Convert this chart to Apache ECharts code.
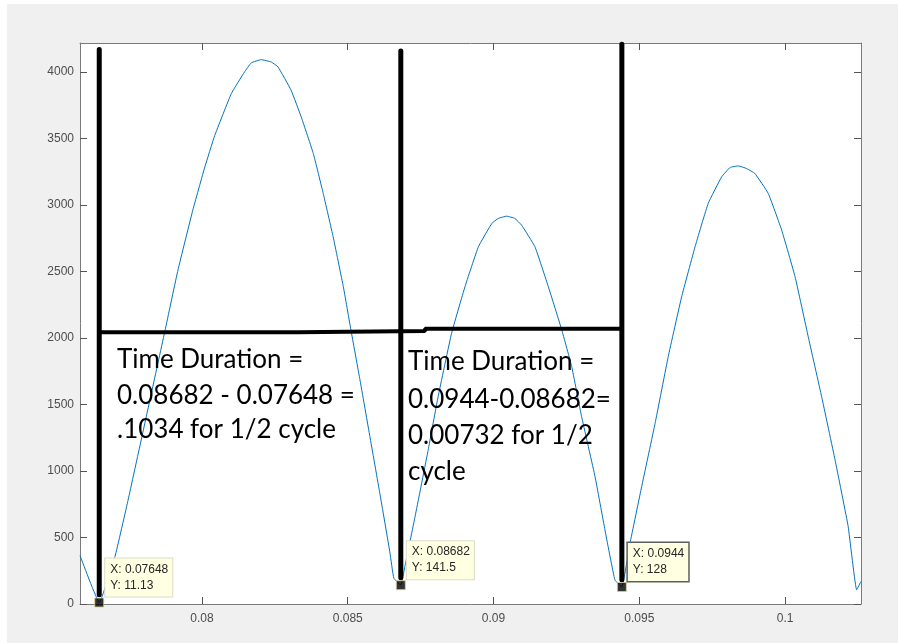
<!DOCTYPE html>
<html>
<head>
<meta charset="utf-8">
<title>Half-cycle timing</title>
<script src="https://cdn.jsdelivr.net/npm/echarts@6/dist/echarts.min.js"></script>
<style>
  html, body { margin: 0; padding: 0; background: #ffffff; }
  #chart { position: absolute; left: 7px; top: 4px; width: 891px; height: 639px; }
</style>
</head>
<body>
<div id="chart"></div>
<script>
// Sampled signal (time in s, amplitude)
const timeS = [
  0.07582, 0.07648, 0.07702, 0.07747, 0.07874, 0.07918, 0.07969, 0.08009, 0.08044, 0.08101,
  0.08146, 0.08169, 0.08203, 0.08238, 0.08261, 0.08306, 0.08342, 0.08382, 0.08416, 0.08450,
  0.08485, 0.08511, 0.08542, 0.08576, 0.08610, 0.08645, 0.08658, 0.08682,
  0.08696, 0.08731, 0.08776, 0.08810, 0.08856, 0.08902, 0.08948, 0.08994, 0.09016, 0.09045,
  0.09073, 0.09096, 0.09142, 0.09188, 0.09234, 0.09268, 0.09302, 0.09348, 0.09382, 0.09416,
  0.09440,
  0.09468, 0.09508, 0.09554, 0.09599, 0.09645, 0.09691, 0.09736, 0.09782, 0.09811, 0.09839,
  0.09868, 0.09896, 0.09942, 0.09988, 0.10034, 0.10079, 0.10125, 0.10171, 0.10216, 0.10245,
  0.10260
];
const amplitude = [
  365, 11.13, 357, 783, 2061, 2512, 2963, 3278, 3523, 3838,
  4000, 4068, 4093, 4075, 4038, 3863, 3653, 3387, 3087, 2761,
  2385, 2060, 1685, 1259, 834, 383, 195, 141.5,
  282, 658, 1159, 1559, 2035, 2385, 2686, 2861, 2899, 2916,
  2899, 2849, 2686, 2385, 2060, 1785, 1409, 958, 558, 182,
  128,
  458, 883, 1359, 1860, 2310, 2686, 3012, 3211, 3282, 3294,
  3274, 3237, 3087, 2811, 2460, 2010, 1559, 1084, 583, 107,
  170
];

// Axis extents and tick values
const X_MIN = 0.07582, X_MAX = 0.1026;
const Y_MIN = 0, Y_MAX = 4218;
const xTicks = [0.08, 0.085, 0.09, 0.095, 0.1];
const yTicks = [0, 500, 1000, 1500, 2000, 2500, 3000, 3500, 4000];

// Data tips at the three minima
const tipX = [0.07648, 0.08682, 0.0944];
const tipY = [11.13, 141.5, 128];
const tipSelected = [false, false, true];

// Hand-drawn marker lines: verticals at the minima, horizontal span between them
const markLineX = [0.07648, 0.08682, 0.0944];
const markLineBottom = [70, 198, 183];
const markLineTop = [4170, 4158, 4208];
const spanX = [0.07648, 0.08328, 0.08328, 0.08765, 0.08765, 0.0944];
const spanY = [2043, 2043, 2053, 2053, 2070, 2070];

// Notes written on the plot
const noteA = ['Time Duration =', '0.08682 - 0.07648 =', '.1034 for 1/2 cycle'];
const noteB = ['Time Duration =', '0.0944-0.08682=', '0.00732 for 1/2', 'cycle'];

const AXIS_COLOR = '#7a7a7a';
const LABEL_COLOR = '#4d4d4d';

const chart = echarts.init(document.getElementById('chart'), null, { renderer: 'canvas' });

function xAxisDef(pos, withLabels) {
  return {
    type: 'value', position: pos, min: X_MIN, max: X_MAX,
    axisLine: { show: true, onZero: false, lineStyle: { color: AXIS_COLOR, width: 1 } },
    axisTick: { show: true, inside: true, length: 7, customValues: xTicks, lineStyle: { color: '#555' } },
    axisLabel: { show: withLabels, customValues: xTicks, color: LABEL_COLOR, fontSize: 12,
      fontFamily: 'Liberation Sans, Arial, sans-serif', margin: 9, formatter: v => String(+v.toFixed(3)) },
    splitLine: { show: false }
  };
}
function yAxisDef(pos, withLabels) {
  return {
    type: 'value', position: pos, min: Y_MIN, max: Y_MAX,
    axisLine: { show: true, onZero: false, lineStyle: { color: AXIS_COLOR, width: 1 } },
    axisTick: { show: true, inside: true, length: 7, customValues: yTicks, lineStyle: { color: '#555' } },
    axisLabel: { show: withLabels, customValues: yTicks, color: LABEL_COLOR, fontSize: 12,
      fontFamily: 'Liberation Sans, Arial, sans-serif', margin: 6, formatter: v => String(v) },
    splitLine: { show: false }
  };
}

const signalData = timeS.map((t, i) => [t, amplitude[i]]);

const markSeries = markLineX.map((x, i) => ({
  type: 'line', xAxisIndex: 0, yAxisIndex: 0, z: 4,
  data: [[x, markLineBottom[i]], [x, markLineTop[i]]],
  showSymbol: false, silent: true,
  lineStyle: { color: '#000', width: 5, cap: 'round' }
}));
markSeries.push({
  type: 'line', xAxisIndex: 0, yAxisIndex: 0, z: 4,
  data: spanX.map((x, i) => [x, spanY[i]]),
  showSymbol: false, silent: true,
  lineStyle: { color: '#000', width: 4, cap: 'butt' }
});

chart.setOption({
  animation: false,
  backgroundColor: '#f0f0f0',
  grid: { left: 73, top: 39, right: 37, bottom: 39, show: true, backgroundColor: '#ffffff', borderWidth: 0 },
  xAxis: [xAxisDef('bottom', true), xAxisDef('top', false)],
  yAxis: [yAxisDef('left', true), yAxisDef('right', false)],
  series: [
    {
      type: 'line', xAxisIndex: 0, yAxisIndex: 0, z: 2,
      data: signalData, showSymbol: false, smooth: 0.1,
      lineStyle: { color: '#0072BD', width: 1 }
    },
    ...markSeries,
    {
      type: 'scatter', xAxisIndex: 0, yAxisIndex: 0, z: 6,
      data: tipX.map((x, i) => [x, tipY[i]]),
      symbol: 'rect', symbolSize: 9,
      itemStyle: { color: '#000', borderColor: '#d8cf9c', borderWidth: 1 }
    }
  ]
});

// Data-tip boxes anchored to their points; notes placed in the plot
const graphics = tipX.map((x, i) => {
  const p = chart.convertToPixel({ gridIndex: 0 }, [x, tipY[i]]);
  return {
    type: 'text', z: 10,
    x: p[0] + 6, y: p[1] - 6,
    style: {
      text: 'X: ' + x + '\nY: ' + tipY[i],
      font: '12px "Liberation Sans", Arial, sans-serif',
      fill: '#262626',
      verticalAlign: 'bottom', align: 'left',
      lineHeight: 16,
      backgroundColor: '#ffffe1',
      borderColor: tipSelected[i] ? '#5f5f5f' : '#dcdcc8',
      borderWidth: tipSelected[i] ? 1.5 : 1,
      padding: [3, 4, 3, 5]
    }
  };
});

const NOTE_FONT = '26px Lato, "Open Sans", sans-serif';
function noteLines(lines, left, baselines) {
  return lines.map((s, i) => ({
    type: 'text', z: 9, x: left, y: baselines[i] - 10,
    style: { text: s, font: NOTE_FONT, fill: '#000', verticalAlign: 'middle', align: 'left' }
  }));
}
graphics.push(...noteLines(noteA, 110, [366, 402, 436]));
graphics.push(...noteLines(noteB, 401, [368, 406, 442, 478]));

chart.setOption({ graphic: graphics });
</script>
</body>
</html>
